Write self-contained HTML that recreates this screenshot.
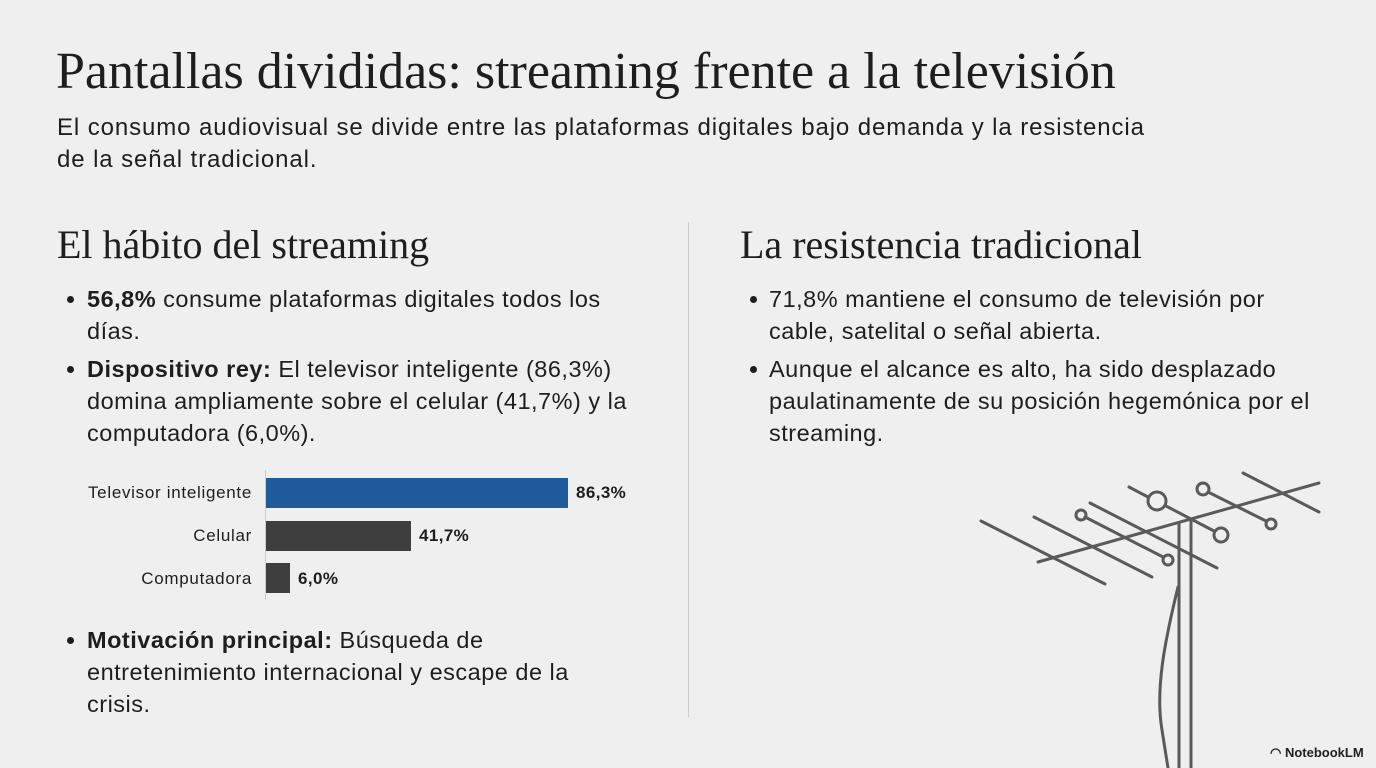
<!DOCTYPE html><html><head><meta charset="utf-8"><style>
body{margin:0;width:1376px;height:768px;background:#efefef;position:relative;overflow:hidden;font-family:"Liberation Sans",sans-serif;color:#1e1e1e}
.a{position:absolute;white-space:nowrap}
.serif{font-family:"Liberation Serif",serif}
.b{font-size:23.5px;line-height:32px;letter-spacing:0.5px}
.dot{position:absolute;width:7px;height:7px;border-radius:50%;background:#1e1e1e}
.lbl{position:absolute;font-size:17px;letter-spacing:0.7px;text-align:right;width:190px;left:62px}
.val{position:absolute;font-size:17px;font-weight:bold;letter-spacing:0.4px}
.bar{position:absolute;height:30px;background:#3e3e3e}
</style></head><body>
<div class="a serif" style="left:56px;top:42px;font-size:52px">Pantallas divididas: streaming frente a la televisión</div>
<div class="a" style="left:57px;top:112px;font-size:24px;line-height:32px;letter-spacing:0.9px">El consumo audiovisual se divide entre las plataformas digitales bajo demanda y la resistencia<br>de la señal tradicional.</div>
<div class="a serif" style="left:57px;top:221px;font-size:40px">El hábito del streaming</div>
<div class="a serif" style="left:740px;top:221px;font-size:40px">La resistencia tradicional</div>
<div style="position:absolute;left:688px;top:222px;width:1px;height:495px;background:#ccc"></div>

<div class="dot" style="left:67px;top:296px"></div>
<div class="a b" style="left:87px;top:283px"><b>56,8%</b> consume plataformas digitales todos los<br>días.</div>
<div class="dot" style="left:67px;top:366px"></div>
<div class="a b" style="left:87px;top:353px"><b>Dispositivo rey:</b> El televisor inteligente (86,3%)<br>domina ampliamente sobre el celular (41,7%) y la<br>computadora (6,0%).</div>

<div style="position:absolute;left:265px;top:470px;width:1px;height:130px;background:#ccc"></div>
<div class="lbl" style="top:483px">Televisor inteligente</div>
<div class="bar" style="left:266px;top:478px;width:302px;background:#1f5a9a"></div>
<div class="val" style="left:576px;top:483px">86,3%</div>
<div class="lbl" style="top:526px">Celular</div>
<div class="bar" style="left:266px;top:521px;width:145px"></div>
<div class="val" style="left:419px;top:526px">41,7%</div>
<div class="lbl" style="top:569px">Computadora</div>
<div class="bar" style="left:266px;top:563px;width:24px"></div>
<div class="val" style="left:298px;top:569px">6,0%</div>

<div class="dot" style="left:67px;top:637px"></div>
<div class="a b" style="left:87px;top:624px"><b>Motivación principal:</b> Búsqueda de<br>entretenimiento internacional y escape de la<br>crisis.</div>

<div class="dot" style="left:750px;top:296px"></div>
<div class="a b" style="left:769px;top:283px">71,8% mantiene el consumo de televisión por<br>cable, satelital o señal abierta.</div>
<div class="dot" style="left:750px;top:366px"></div>
<div class="a b" style="left:769px;top:353px">Aunque el alcance es alto, ha sido desplazado<br>paulatinamente de su posición hegemónica por el<br>streaming.</div>

<svg style="position:absolute;left:0;top:0" width="1376" height="768" fill="none" stroke="#5a5a5a" stroke-width="3" stroke-linecap="round">
<line x1="1038" y1="562" x2="1319" y2="483"/>
<line x1="981" y1="521" x2="1105" y2="584"/>
<line x1="1034" y1="517" x2="1152" y2="577"/>
<line x1="1085" y1="517" x2="1163" y2="557"/><circle cx="1081" cy="515" r="5"/><circle cx="1168" cy="560" r="5"/>
<line x1="1090" y1="503" x2="1217" y2="568"/>
<line x1="1129" y1="487" x2="1148" y2="497"/><circle cx="1157" cy="501" r="9"/><line x1="1166" y1="506" x2="1214" y2="531"/><circle cx="1221" cy="535" r="7"/>
<line x1="1208" y1="492" x2="1266" y2="521"/><circle cx="1203" cy="489" r="6"/><circle cx="1271" cy="524" r="5"/>
<line x1="1243" y1="473" x2="1319" y2="512"/>
<line x1="1179" y1="523" x2="1179" y2="768"/><line x1="1191" y1="519" x2="1191" y2="768"/>
<path d="M1178 587 C1165 640 1155 690 1162 730 L1168 768"/>
</svg>
<div class="a" style="left:1270px;top:745px;font-size:13px;font-weight:bold;color:#222">◠ NotebookLM</div>
</body></html>
